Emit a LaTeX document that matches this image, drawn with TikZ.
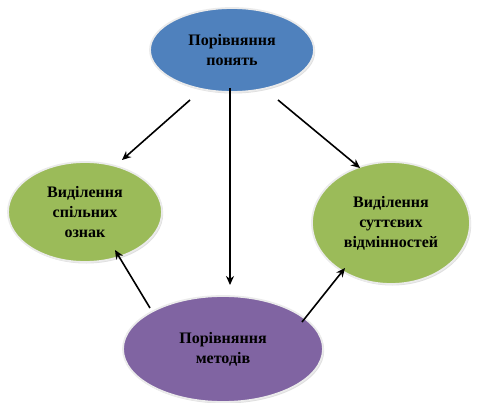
\documentclass[tikz,border=0pt]{standalone}
\usepackage{fontspec}
\setmainfont{Liberation Serif}
\usetikzlibrary{shapes.geometric,arrows.meta,shadows}
\definecolor{cblue}{HTML}{4F81BD}
\definecolor{cgreen}{HTML}{9BBB59}
\definecolor{cpurple}{HTML}{8064A2}
\begin{document}
\begin{tikzpicture}[x=1pt,y=-1pt,
  bubble/.style={ellipse, draw=black!8, line width=1.8pt, inner sep=0pt, align=center,
    font=\fontsize{16}{20}\selectfont\bfseries,
    drop shadow={shadow xshift=1.2pt, shadow yshift=-1.5pt, fill=black!25}},
  conn/.style={-{Stealth[length=9pt,width=8pt]}, line width=1.6pt}]
\useasboundingbox (0,0) rectangle (481,403);
\node[bubble, fill=cblue, minimum width=164pt, minimum height=84pt] (top) at (232,50) {Порівняння\\понять};
\node[bubble, fill=cgreen, minimum width=154pt, minimum height=100pt] (left) at (85,212) {Виділення\\спільних\\ознак};
\node[bubble, fill=cgreen, minimum width=158pt, minimum height=122pt] (right) at (391,223) {Виділення\\суттєвих\\відмінностей};
\node[bubble, fill=cpurple, minimum width=200pt, minimum height=106pt] (bot) at (223,349) {Порівняння\\методів};
\coordinate (t1) at (190,100);
\coordinate (t2) at (230,88);
\coordinate (t3) at (278,100);
\coordinate (l1) at (122,160);
\coordinate (b1) at (230,285);
\coordinate (r1) at (360,168);
\coordinate (b2) at (150,308);
\coordinate (b3) at (302,322);
\coordinate (l2) at (115,250);
\coordinate (r2) at (345,268);
\draw[conn] (t1) -- (l1);
\draw[conn] (t2) -- (b1);
\draw[conn] (t3) -- (r1);
\draw[conn] (b2) -- (l2);
\draw[conn] (b3) -- (r2);
\end{tikzpicture}
\end{document}
